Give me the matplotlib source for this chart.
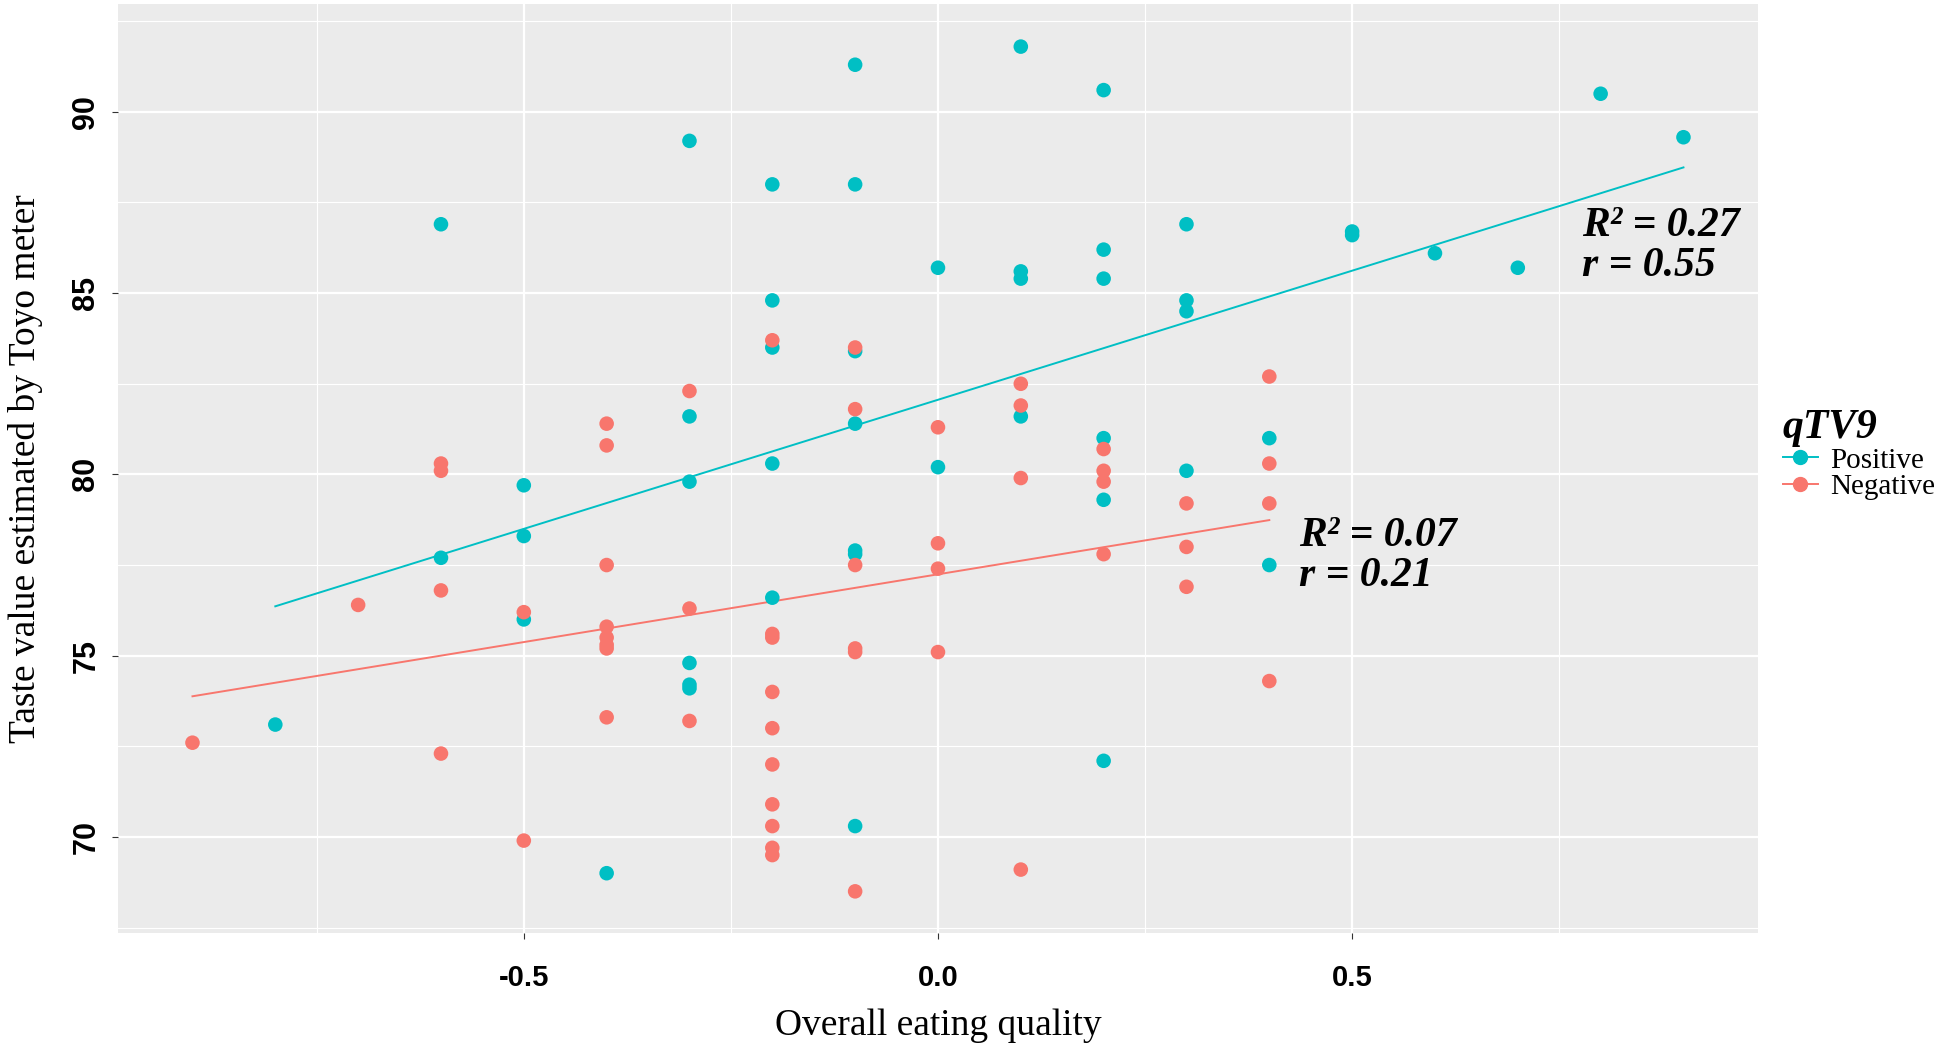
# scatter of Toyo taste value vs overall eating quality, split by qTV9 allele

import numpy as np
import matplotlib.pyplot as plt
from matplotlib.lines import Line2D

OUT_PATH = "out.png"

# Positive allele (teal)
pos_x = [-0.8,
         -0.6, -0.6,
         -0.5, -0.5, -0.5,
         -0.4,
         -0.3, -0.3, -0.3, -0.3, -0.3, -0.3,
         -0.2, -0.2, -0.2, -0.2, -0.2,
         -0.1, -0.1, -0.1, -0.1, -0.1, -0.1, -0.1,
         0.0, 0.0,
         0.1, 0.1, 0.1, 0.1,
         0.2, 0.2, 0.2, 0.2, 0.2, 0.2,
         0.3, 0.3, 0.3, 0.3,
         0.4, 0.4,
         0.5, 0.5,
         0.6, 0.7, 0.8, 0.9]
pos_y = [73.1,
         86.9, 77.7,
         79.7, 78.3, 76.0,
         69.0,
         89.2, 81.6, 79.8, 74.8, 74.2, 74.1,
         88.0, 84.8, 83.5, 80.3, 76.6,
         91.3, 88.0, 83.4, 81.4, 77.9, 77.8, 70.3,
         85.7, 80.2,
         91.8, 85.6, 85.4, 81.6,
         90.6, 86.2, 85.4, 81.0, 79.3, 72.1,
         86.9, 84.8, 84.5, 80.1,
         81.0, 77.5,
         86.7, 86.6,
         86.1, 85.7, 90.5, 89.3]

# Negative allele (red)
neg_x = [-0.9,
         -0.7,
         -0.6, -0.6, -0.6, -0.6,
         -0.5, -0.5,
         -0.4, -0.4, -0.4, -0.4, -0.4, -0.4, -0.4, -0.4,
         -0.3, -0.3, -0.3,
         -0.2, -0.2, -0.2, -0.2, -0.2, -0.2, -0.2, -0.2, -0.2, -0.2,
         -0.1, -0.1, -0.1, -0.1, -0.1, -0.1,
         0.0, 0.0, 0.0, 0.0,
         0.1, 0.1, 0.1, 0.1,
         0.2, 0.2, 0.2, 0.2,
         0.3, 0.3, 0.3,
         0.4, 0.4, 0.4, 0.4]
neg_y = [72.6,
         76.4,
         80.3, 80.1, 76.8, 72.3,
         76.2, 69.9,
         81.4, 80.8, 77.5, 75.8, 75.5, 75.3, 75.2, 73.3,
         82.3, 76.3, 73.2,
         83.7, 75.6, 75.5, 74.0, 73.0, 72.0, 70.9, 70.3, 69.7, 69.5,
         83.5, 81.8, 77.5, 75.2, 75.1, 68.5,
         81.3, 78.1, 77.4, 75.1,
         82.5, 81.9, 79.9, 69.1,
         80.7, 80.1, 79.8, 77.8,
         79.2, 78.0, 76.9,
         82.7, 80.3, 79.2, 74.3]

groups = ["Positive", "Negative"]
stats_text = ["R\u00b2 = 0.27\nr = 0.55", "R\u00b2 = 0.07\nr = 0.21"]

TEAL = "#00BFC4"
RED = "#F8766D"
SERIF = ["Liberation Serif", "DejaVu Serif"]
SANS = ["Liberation Sans", "DejaVu Sans"]


def add_group(ax, xs, ys, color):
    xs = np.array(xs)
    ys = np.array(ys)
    ax.scatter(xs, ys, s=110, color=color, edgecolors="none", zorder=3)
    # lm fit, drawn over the range of the group like geom_smooth
    slope, intercept = np.polyfit(xs, ys, 1)
    line_x = np.array([xs.min(), xs.max()])
    ax.plot(line_x, slope * line_x + intercept, color=color, lw=1.4, zorder=2)


def main():
    fig = plt.figure(figsize=(19.46, 10.46), dpi=100)
    ax = fig.add_axes([0.0606, 0.108, 0.8428, 0.888])
    ax.set_facecolor("#EBEBEB")
    for s in ax.spines.values():
        s.set_visible(False)

    ax.set_xlim(-0.99, 0.99)
    ax.set_ylim(67.35, 92.97)

    # ggplot-like grid
    ax.set_xticks([-0.5, 0.0, 0.5])
    ax.set_xticks([-0.75, -0.25, 0.25, 0.75], minor=True)
    ax.set_yticks([70, 75, 80, 85, 90])
    ax.set_yticks([67.5, 72.5, 77.5, 82.5, 87.5, 92.5], minor=True)
    ax.grid(which="major", color="white", lw=1.6)
    ax.grid(which="minor", color="white", lw=0.8)
    ax.set_axisbelow(True)
    ax.tick_params(which="minor", length=0)
    ax.tick_params(axis="x", which="major", length=4, width=0.8, color="#333333", pad=18)
    ax.tick_params(axis="y", which="major", length=4, width=0.8, color="#333333", pad=8)

    add_group(ax, pos_x, pos_y, TEAL)
    add_group(ax, neg_x, neg_y, RED)

    ax.set_xticklabels(["-0.5", "0.0", "0.5"], family=SANS, weight="bold", fontsize=21)
    ax.set_yticklabels(["70", "75", "80", "85", "90"], family=SANS, weight="bold",
                       fontsize=22, rotation=90, va="center")

    ax.set_xlabel("Overall eating quality", family=SERIF, fontsize=27, labelpad=12)
    ax.set_ylabel("Taste value estimated by Toyo meter", family=SERIF, fontsize=27, labelpad=20)

    ax.text(0.777, 86.3, stats_text[0], family=SERIF, weight="bold", style="italic",
            fontsize=30, ha="left", va="center", linespacing=1.05)
    ax.text(0.436, 77.75, stats_text[1], family=SERIF, weight="bold", style="italic",
            fontsize=30, ha="left", va="center", linespacing=1.05)

    handles = [
        Line2D([], [], color=TEAL, marker="o", markersize=10, lw=1.4),
        Line2D([], [], color=RED, marker="o", markersize=10, lw=1.4),
    ]
    leg = fig.legend(handles, groups, loc="upper left", bbox_to_anchor=(0.91, 0.62),
                     frameon=False, handlelength=1.2, handletextpad=0.45,
                     labelspacing=0.0, borderaxespad=0,
                     prop={"family": SERIF, "size": 21},
                     title="qTV9",
                     title_fontproperties={"family": SERIF, "size": 30,
                                           "weight": "bold", "style": "italic"})
    leg._legend_box.align = "left"

    fig.savefig(OUT_PATH, dpi=100)


if __name__ == "__main__":
    main()
